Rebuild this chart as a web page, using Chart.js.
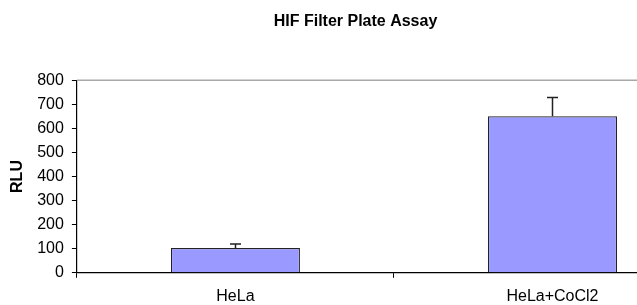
<!DOCTYPE html>
<html>
<head>
<meta charset="utf-8">
<script src="https://cdn.jsdelivr.net/npm/chart.js@4"></script>
<style>
  body { margin: 0; background: #fff; overflow: hidden; width: 637px; height: 305px; }
  canvas { display: block; }
</style>
</head>
<body>
<canvas id="hifChart" width="712" height="315"></canvas>
<script>
// values
const categories = ["HeLa", "HeLa+CoCl2"];
const rlu = [103, 650];
const rluError = [17, 78];
const yTicks = [0, 100, 200, 300, 400, 500, 600, 700, 800];

const font = "Liberation Sans";

// error bars (up only) + gray top border of plot area
const extras = {
  id: "extras",
  afterDatasetsDraw(chart) {
    const { ctx, scales: { x, y }, chartArea } = chart;
    ctx.save();
    ctx.strokeStyle = "#a8a8a8";
    ctx.lineWidth = 1.5;
    ctx.beginPath();
    ctx.moveTo(chartArea.left, chartArea.top);
    ctx.lineTo(chartArea.right, chartArea.top);
    ctx.stroke();
    ctx.strokeStyle = "#222";
    ctx.lineWidth = 1.5;
    rlu.forEach((v, i) => {
      const cx = Math.round(x.getPixelForValue(i)) + 0.5;
      const y0 = y.getPixelForValue(v);
      const y1 = y.getPixelForValue(v + rluError[i]);
      ctx.beginPath();
      ctx.moveTo(cx, y0);
      ctx.lineTo(cx, y1);
      ctx.moveTo(cx - 5.5, y1);
      ctx.lineTo(cx + 5.5, y1);
      ctx.stroke();
    });
    ctx.restore();
  }
};

new Chart(document.getElementById("hifChart"), {
  type: "bar",
  data: {
    labels: categories,
    datasets: [{
      data: rlu,
      backgroundColor: "#9999ff",
      borderColor: "#222",
      borderWidth: 1.2,
      barPercentage: 0.407,
      categoryPercentage: 1
    }]
  },
  options: {
    responsive: false,
    animation: false,
    layout: { padding: { top: 0, left: 0, right: 1, bottom: 0 } },
    plugins: {
      legend: { display: false },
      tooltip: { enabled: false },
      title: {
        display: true,
        text: "HIF Filter Plate Assay",
        color: "#000",
        font: { family: font, size: 16, weight: "bold" },
        padding: { top: 12, bottom: 49 }
      }
    },
    scales: {
      x: {
        offset: true,
        grid: { display: true, drawOnChartArea: false, offset: true, color: "#000", tickLength: 5, tickColor: "#000" },
        border: { color: "#000", width: 1.2 },
        ticks: { color: "#000", font: { family: font, size: 16 }, padding: 9 }
      },
      y: {
        min: 0,
        max: 800,
        afterBuildTicks: (axis) => { axis.ticks = yTicks.map(v => ({ value: v })); },
        grid: { display: true, drawOnChartArea: false, color: "#000", tickLength: 5 },
        border: { color: "#000", width: 1.2 },
        ticks: { color: "#000", font: { family: font, size: 16 }, padding: 8 },
        title: {
          display: true,
          text: "RLU",
          color: "#000",
          font: { family: font, size: 16, weight: "bold" },
          padding: { top: 8, bottom: 2 }
        }
      }
    }
  },
  plugins: [extras]
});
</script>
</body>
</html>
